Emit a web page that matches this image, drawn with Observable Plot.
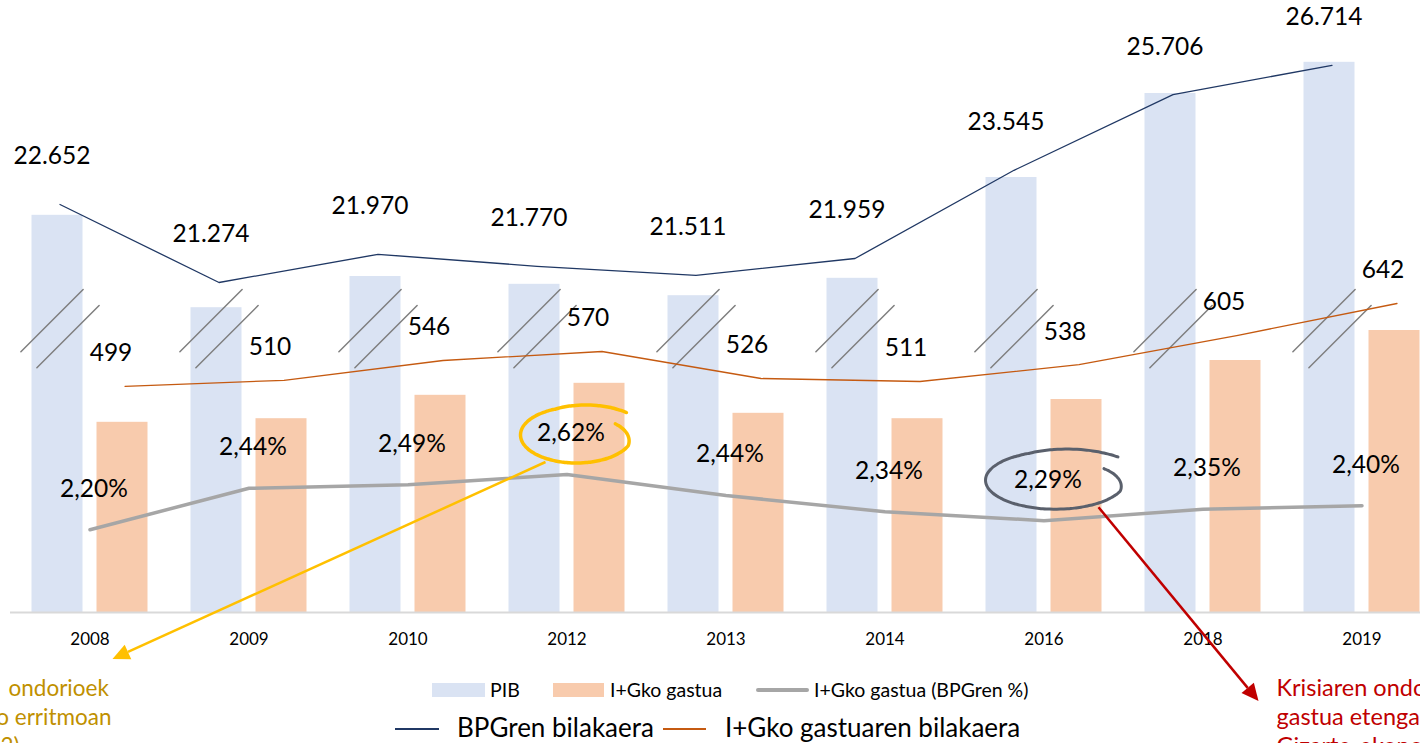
<!DOCTYPE html>
<html>
<head>
<meta charset="utf-8">
<script src="https://cdn.jsdelivr.net/npm/d3@7"></script>
<script src="https://cdn.jsdelivr.net/npm/@observablehq/plot@0.6"></script>
<style>
  html, body { margin: 0; padding: 0; background: #fff; overflow: hidden; }
  #wrap { position: relative; width: 1420px; height: 743px; overflow: hidden; font-family: Lato, sans-serif; }
  #wrap svg { position: absolute; left: 0; top: 0; overflow: hidden; }
  .lg { position: absolute; white-space: nowrap; color: #000; line-height: 1; }
  .sw { position: absolute; }
</style>
</head>
<body>
<div id="wrap"></div>
<script>
// ---- data ----
const years = ["2008", "2009", "2010", "2012", "2013", "2014", "2016", "2018", "2019"];
const pibValues = [22652, 21274, 21970, 21770, 21511, 21959, 23545, 25706, 26714];
const gastuaValues = [499, 510, 546, 570, 526, 511, 538, 605, 642];
const pctValues = [2.20, 2.44, 2.49, 2.62, 2.44, 2.34, 2.29, 2.35, 2.40];
// drawn heights on the chart's (broken) index scale, 0..100
const pibBarIdx = [66.2, 50.8, 56.0, 54.7, 52.8, 55.7, 72.5, 86.5, 91.7];
const gastuaBarIdx = [31.7, 32.3, 36.2, 38.2, 33.2, 32.3, 35.5, 42.0, 47.0];
const pibLineIdx = [68.0, 55.0, 59.7, 57.7, 56.2, 59.0, 73.7, 86.3, 91.2];
const gastuaLineIdx = [37.7, 38.7, 42.0, 43.5, 39.0, 38.5, 41.3, 46.2, 51.5];
const pctLineIdx = [13.8, 20.7, 21.3, 23.0, 19.5, 16.8, 15.3, 17.2, 17.8];
const breakIdx = 47.3;

const legendRow1 = ["PIB", "I+Gko gastua", "I+Gko gastua (BPGren %)"];
const legendRow2 = ["BPGren bilakaera", "I+Gko gastuaren bilakaera"];
const noteLeft = ["ondorioek", "o erritmoan", "2)"];
const noteRight = ["Krisiaren ondorioz", "gastua etengabe", "Gizarte-ekonomikoa"];

const C = {
  pib: "#DAE3F3", gastua: "#F8CBAD", pct: "#A6A6A6",
  pibLine: "#203864", gastuaLine: "#C55A11", brk: "#7F7F7F",
  yellow: "#FFC000", red: "#C00000", gold: "#BF9000", ring: "#5A606C"
};

const loc = d3.formatLocale({decimal: ",", thousands: ".", grouping: [3], currency: ["", ""]});
const fThou = loc.format(",d");
const fPct = v => loc.format(".2f")(v) + "%";

const data = years.map((y, i) => ({
  year: y, pib: pibValues[i], gastua: gastuaValues[i], pct: pctValues[i],
  pibBar: pibBarIdx[i], gastuaBar: gastuaBarIdx[i],
  pibLine: pibLineIdx[i], gastuaLine: gastuaLineIdx[i], pctLine: pctLineIdx[i],
  brk: breakIdx
}));

const lineShape = {draw(ctx, l) { ctx.moveTo(0, 0); ctx.lineTo(0, -l); }};

const plot = Plot.plot({
  width: 1420, height: 743,
  marginTop: 0, marginLeft: 0, marginRight: 0, marginBottom: 131,
  style: {fontFamily: "Lato, sans-serif", background: "transparent", overflow: "hidden"},
  x: {type: "band", domain: years, range: [9.5, 1441.5], padding: 0},
  y: {domain: [0, 100], range: [612, 12], axis: null},
  marks: [
    Plot.barY(data, {x: "year", y: "pibBar", fill: C.pib, insetLeft: 21.5, insetRight: 86.5}),
    Plot.barY(data, {x: "year", y: "gastuaBar", fill: C.gastua, insetLeft: 86.5, insetRight: 21.5}),
    Plot.ruleY([0], {stroke: "#D9D9D9", strokeWidth: 2, insetLeft: 10}),
    Plot.axisX({tickSize: 0, tickPadding: 20, fontSize: 17, fill: "#000", label: null}),
    Plot.vector(data, {x: "year", y: "brk", length: 88, rotate: 45, anchor: "middle", shape: lineShape,
      stroke: C.brk, strokeWidth: 1.5, dx: -38, dy: -8}),
    Plot.vector(data, {x: "year", y: "brk", length: 88, rotate: 45, anchor: "middle", shape: lineShape,
      stroke: C.brk, strokeWidth: 1.5, dx: -22, dy: 8}),
    Plot.line(data, {x: "year", y: "pctLine", stroke: C.pct, strokeWidth: 3.5}),
    Plot.line(data, {x: "year", y: "pibLine", stroke: C.pibLine, strokeWidth: 1.3, dx: -30}),
    Plot.line(data, {x: "year", y: "gastuaLine", stroke: C.gastuaLine, strokeWidth: 1.3, dx: 35}),
    Plot.text(data, {x: "year", y: "pibLine", text: d => fThou(d.pib), dx: -38, dy: -48,
      fontSize: 24.5, fill: "#000", lineAnchor: "middle"}),
    Plot.text(data, {x: "year", y: "gastuaLine", text: d => fThou(d.gastua), dx: 21, dy: -33,
      fontSize: 24.5, fill: "#000", lineAnchor: "middle"}),
    Plot.text(data, {x: "year", y: "pctLine", text: d => fPct(d.pct), dx: 4, dy: -41,
      fontSize: 24.5, fill: "#000", lineAnchor: "middle"})
  ]
});

const wrap = document.getElementById("wrap");
wrap.appendChild(plot);

// ---- annotations positioned through the plot's scales ----
const sx = plot.scale("x"), sy = plot.scale("y");
const xc = yr => sx.apply(yr) + sx.bandwidth / 2;
const yv = v => sy.apply(v);
const svg = d3.select(plot);
const g = svg.append("g");

function ring(cx, cy, rx, ry, color, w) {
  const pts = [];
  const n = 120, a0 = -30 * Math.PI / 180, span = 348 * Math.PI / 180;
  for (let k = 0; k <= n; k++) {
    const t = k / n;
    let f = 1;
    if (t < 0.15) f = 0.8 + 0.2 * (t / 0.15);
    else if (t > 0.8) f = 1 + 0.2 * ((t - 0.8) / 0.2);
    const a = a0 + span * t;
    pts.push([cx + rx * f * Math.cos(a), cy + ry * f * Math.sin(a)]);
  }
  g.append("path").attr("d", d3.line().curve(d3.curveBasis)(pts))
    .attr("fill", "none").attr("stroke", color).attr("stroke-width", w).attr("stroke-linecap", "round");
}
function arrow(x1, y1, x2, y2, color, w) {
  const ang = Math.atan2(y2 - y1, x2 - x1), L = 17, W = 8;
  const bx = x2 - L * Math.cos(ang), by = y2 - L * Math.sin(ang);
  g.append("line").attr("x1", x1).attr("y1", y1).attr("x2", bx).attr("y2", by)
    .attr("stroke", color).attr("stroke-width", w);
  const px = -Math.sin(ang) * W, py = Math.cos(ang) * W;
  g.append("path").attr("d", `M${x2},${y2}L${bx + px},${by + py}L${bx - px},${by - py}Z`).attr("fill", color);
}

const i12 = years.indexOf("2012"), i16 = years.indexOf("2016");
const lab12 = [xc("2012") + 4, yv(pctLineIdx[i12]) - 41];
const lab16 = [xc("2016") + 4, yv(pctLineIdx[i16]) - 41];
const e12 = [lab12[0] + 6, lab12[1] + 2];
const e16 = [lab16[0] + 8, lab16[1] + 1];
ring(e12[0], e12[1], 56, 28, C.yellow, 3.5);
ring(e16[0], e16[1], 70, 29, C.ring, 3);
arrow(e12[0] - 31, e12[1] + 27, xc("2008") + 23, yv(0) + 47, C.yellow, 2.5);
arrow(e16[0] + 43, e16[1] + 27, xc("2018") + 56, yv(0) + 89, C.red, 2.5);

// side notes (cut by the page edge as in the source)
const nly = yv(0) + 84;
const noteL = g.append("g").attr("font-family", "Lato, sans-serif").attr("font-size", 22.5).attr("fill", C.gold);
noteL.append("text").attr("x", xc("2008") - 81).attr("y", nly).attr("text-anchor", "start").text(noteLeft[0]);
noteL.append("text").attr("x", xc("2008") + 22).attr("y", nly + 29).attr("text-anchor", "end").text(noteLeft[1]);
noteL.append("text").attr("x", xc("2008") - 70).attr("y", nly + 58).attr("text-anchor", "end").text(noteLeft[2]);
const noteR = g.append("g").attr("font-family", "Lato, sans-serif").attr("font-size", 23.5).attr("fill", C.red);
const nrx = xc("2018") + 74;
noteRight.forEach((t, k) => noteR.append("text").attr("x", nrx).attr("y", nly + k * 29)
  .attr("text-anchor", "start").text(t));

// ---- legend ----
function add(el, css, text) {
  const d = document.createElement("div");
  d.className = el; d.style.cssText = css; if (text) d.textContent = text;
  wrap.appendChild(d);
}
add("sw", `left:432px;top:683px;width:53px;height:14px;background:${C.pib}`);
add("lg", "left:490px;top:680px;font-size:19.5px", legendRow1[0]);
add("sw", `left:553px;top:683px;width:51px;height:14px;background:${C.gastua}`);
add("lg", "left:610px;top:680px;font-size:19.5px", legendRow1[1]);
add("sw", `left:756px;top:688px;width:53px;height:4px;background:${C.pct};border-radius:2px`);
add("lg", "left:814px;top:680px;font-size:19.5px", legendRow1[2]);
add("sw", `left:395px;top:728px;width:44px;height:1.5px;background:${C.pibLine}`);
add("lg", "left:457px;top:714px;font-size:26px", legendRow2[0]);
add("sw", `left:663px;top:728px;width:43px;height:1.5px;background:${C.gastuaLine}`);
add("lg", "left:725px;top:714px;font-size:26px", legendRow2[1]);
</script>
</body>
</html>
